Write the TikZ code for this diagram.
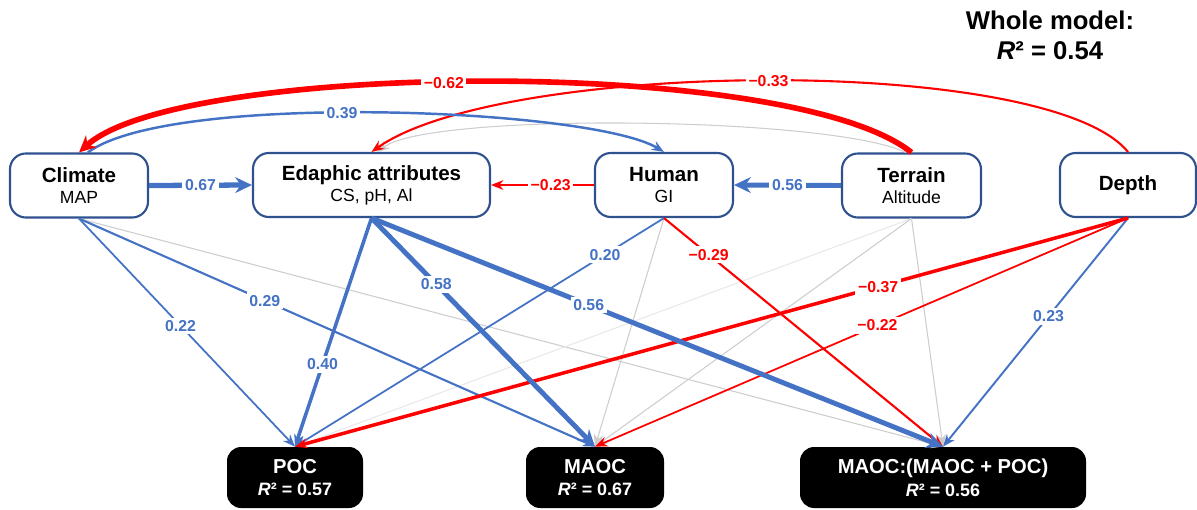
\documentclass[tikz,border=0pt]{standalone}
\usepackage{fontspec}
\setmainfont{Liberation Sans}
\usepackage{tikz}
\usetikzlibrary{arrows.meta}
\definecolor{pathblue}{HTML}{4472C4}
\definecolor{pathred}{HTML}{FF0000}
\definecolor{pathgray}{HTML}{CDCDCD}
\definecolor{faintgray}{HTML}{E8E8E8}
\definecolor{boxline}{HTML}{2F528F}
\newcommand{\subtxt}[1]{{\mdseries\fontsize{10}{12}\selectfont #1}}
\newcommand{\rsq}{{\itshape R}²}
\tikzset{
  factor/.style={draw=boxline, line width=1.2pt, rounded corners=9pt, fill=white,
    minimum height=1.28cm, inner sep=0pt, align=center,
    font=\fontsize{11.7}{12}\selectfont\bfseries},
  outcome/.style={fill=black, rounded corners=8pt, minimum height=1.22cm, inner sep=0pt,
    text=white, align=center, font=\fontsize{11.5}{13}\selectfont\bfseries},
  bline/.style={pathblue, -{Stealth[length=7pt,width=5.5pt]}},
  rline/.style={pathred, -{Stealth[length=7pt,width=5.5pt]}},
  nsline/.style={pathgray, line width=0.6pt, -{Stealth[length=7pt,width=5.5pt]}},
  big/.style={-{Stealth[length=9.5pt,width=9pt]}},
  coef/.style={fill=white, inner sep=1.5pt, font=\fontsize{9}{10}\selectfont\bfseries}
}
\begin{document}
\begin{tikzpicture}
  \useasboundingbox (0,0) rectangle (23.94,10.18);

  % predictors
  \node[factor, minimum width=2.76cm] (climate) at (1.58,6.47) {Climate\\\subtxt{MAP}};
  \node[factor, minimum width=4.74cm] (edaphic) at (7.43,6.48) {Edaphic attributes\\\subtxt{CS, pH, Al}};
  \node[factor, minimum width=2.76cm] (human) at (13.28,6.48) {Human\\\subtxt{GI}};
  \node[factor, minimum width=2.78cm] (terrain) at (18.23,6.47) {Terrain\\\subtxt{Altitude}};
  \node[factor, minimum width=2.72cm] (depth) at (22.56,6.48) {Depth};

  % responses
  \node[outcome, minimum width=2.72cm] (poc) at (5.9,0.63) {POC\\{\fontsize{10.2}{13}\selectfont\rsq{} = 0.57}};
  \node[outcome, minimum width=2.76cm] (maoc) at (11.9,0.63) {MAOC\\{\fontsize{10.2}{13}\selectfont\rsq{} = 0.67}};
  \node[outcome, minimum width=5.72cm] (ratio) at (18.86,0.63) {MAOC:(MAOC + POC)\\{\fontsize{10.2}{13}\selectfont\rsq{} = 0.56}};

  \node[align=center, font=\fontsize{14.6}{17}\selectfont\bfseries] (whole) at (21.0,9.48) {Whole model:\\\rsq{} = 0.54};

  % non-significant paths
  \draw[nsline] (terrain.100) .. controls +(-1.5,0.72) and +(1.06,0.8) .. (edaphic.80);
  \draw[nsline] (climate.south) -- (ratio.north);
  \draw[nsline] (human.south) -- (maoc.north);
  \draw[nsline, faintgray] (terrain.south) -- (poc.north);
  \draw[nsline] (terrain.south) -- (maoc.north);
  \draw[nsline] (terrain.south) -- (ratio.north);

  % arcs over the top
  \draw[rline, line width=1.2pt] (depth.north) .. controls +(-1.6,1.96) and +(2.6,1.84) .. (edaphic.north) node[coef, pos=0.5] {−0.33};
  \draw[bline, line width=1.4pt] (climate.75) .. controls +(1.64,1.22) and +(-1.46,0.88) .. (human.north) node[coef, pos=0.45] {0.39};
  \draw[rline, big, line width=3.2pt] (terrain.north) .. controls +(-2.44,1.94) and +(2.0,1.82) .. (climate.north) node[coef, pos=0.54] {−0.62};

  % between predictors
  \draw[bline, big, line width=3pt] (climate.east) -- (edaphic.west) node[coef, pos=0.5] {0.67};
  \draw[rline, line width=1.2pt] (human.west) -- (edaphic.east) node[coef, pos=0.42] {−0.23};
  \draw[bline, big, line width=2.8pt] (terrain.west) -- (human.east) node[coef, pos=0.5] {0.56};

  % to responses
  \draw[bline, line width=1pt] (climate.south) -- (poc.north) node[coef, pos=0.47] {0.22};
  \draw[bline, line width=1.2pt] (climate.south) -- (maoc.north) node[coef, pos=0.36] {0.29};
  \draw[bline, line width=1pt] (human.south) -- (poc.north) node[coef, pos=0.16] {0.20};
  \draw[rline, line width=1.2pt] (human.south) -- (ratio.north) node[coef, pos=0.16] {−0.29};
  \draw[rline, line width=1pt] (depth.south) -- (maoc.north) node[coef, pos=0.47] {−0.22};
  \draw[bline, line width=1.1pt] (depth.south) -- (ratio.north) node[coef, pos=0.43] {0.23};
  \draw[rline, line width=2pt] (depth.south) -- (poc.north) node[coef, pos=0.30] {−0.37};
  \draw[bline, line width=2pt] (edaphic.south) -- (poc.north) node[coef, pos=0.64] {0.40};
  \draw[bline, big, line width=2.8pt] (edaphic.south) -- (maoc.north) node[coef, pos=0.29] {0.58};
  \draw[bline, big, line width=2.8pt] (edaphic.south) -- (ratio.north) node[coef, pos=0.38] {0.56};
\end{tikzpicture}
\end{document}
